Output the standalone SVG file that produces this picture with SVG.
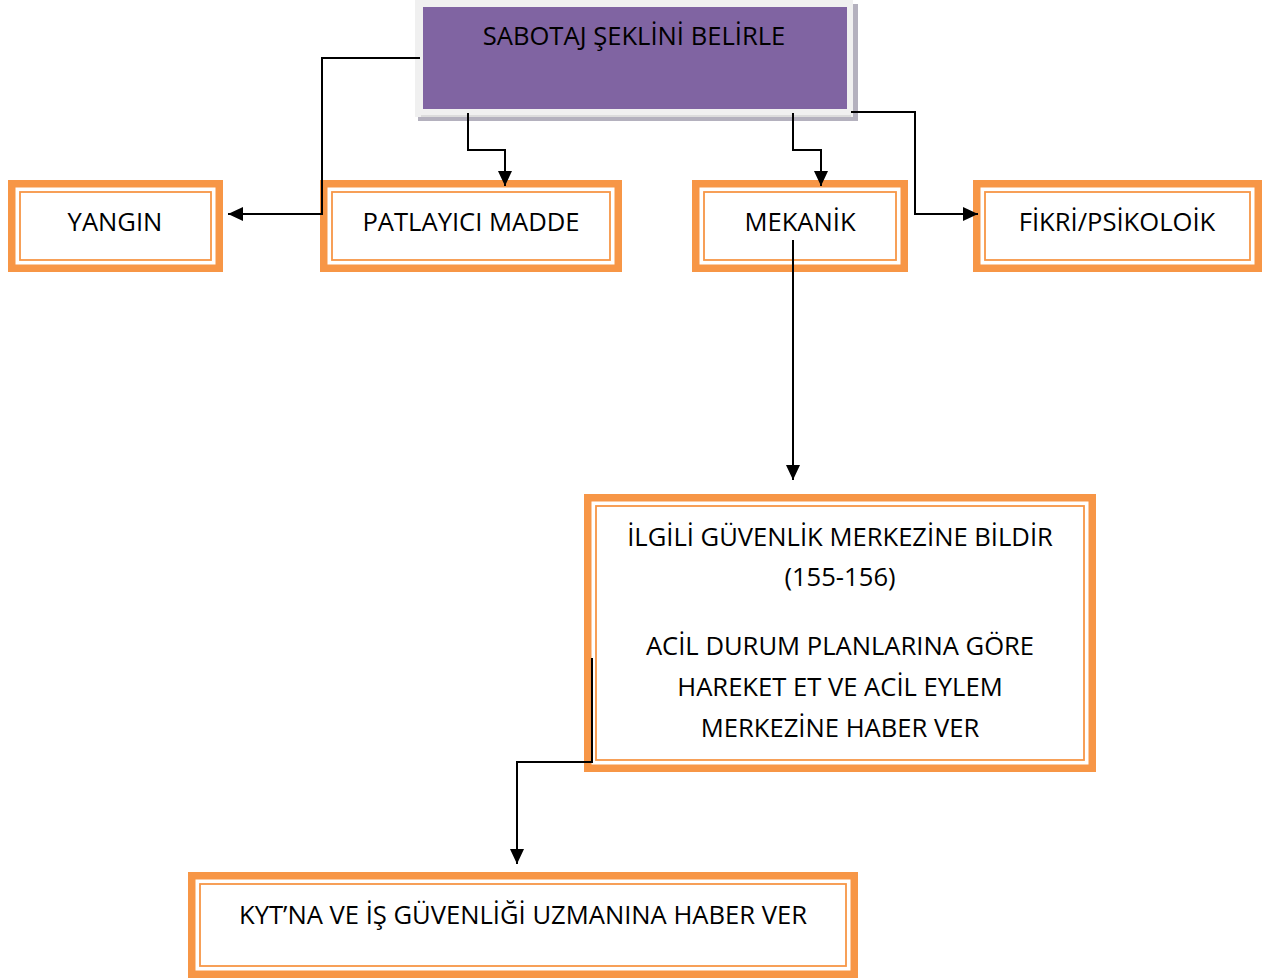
<svg xmlns="http://www.w3.org/2000/svg" width="1269" height="978" viewBox="0 0 1269 978">
  <style>
    .band { fill: #F79646; }
    .inner { fill: #FFFFFF; }
    .rule { fill: none; stroke: #F79646; stroke-width: 1.8; }
    .label { font-family: "Open Sans", "Noto Sans", "Liberation Sans", sans-serif; font-size: 25.6px; fill: #000000; text-anchor: middle; }
    .conn { fill: none; stroke: #000000; stroke-width: 2; marker-end: url(#arrow); }
  </style>
  <defs>
    <marker id="arrow" markerUnits="userSpaceOnUse" markerWidth="15" markerHeight="14" refX="15" refY="7" orient="auto">
      <path d="M0,0 L15,7 L0,14 Z" fill="#000000"/>
    </marker>
  </defs>
  <rect width="1269" height="978" fill="#FFFFFF"/>

  <!-- root step -->
  <g id="node-sabotaj">
    <rect x="418" y="4" width="440" height="117" fill="#B4B1BE"/>
    <rect x="415" y="0" width="438" height="117" fill="#F0F0F0"/>
    <line x1="421" y1="116" x2="851" y2="116" stroke="#C8C8C8" stroke-width="1"/>
    <rect x="423" y="7" width="424" height="102" fill="#8064A2"/>
    <text class="label" x="634" y="45">SABOTAJ ŞEKLİNİ BELİRLE</text>
  </g>

  <!-- sabotage types -->
  <g id="node-yangin">
    <rect class="band" x="8" y="180" width="215" height="92"/>
    <rect class="inner" x="15.5" y="187.5" width="200" height="77"/>
    <rect class="rule" x="20" y="192" width="191" height="68"/>
    <text class="label" x="115" y="231">YANGIN</text>
  </g>
  <g id="node-patlayici">
    <rect class="band" x="320" y="180" width="302" height="92"/>
    <rect class="inner" x="327.5" y="187.5" width="287" height="77"/>
    <rect class="rule" x="332" y="192" width="278" height="68"/>
    <text class="label" x="471" y="231">PATLAYICI MADDE</text>
  </g>
  <g id="node-mekanik">
    <rect class="band" x="692" y="180" width="216" height="92"/>
    <rect class="inner" x="699.5" y="187.5" width="201" height="77"/>
    <rect class="rule" x="704" y="192" width="192" height="68"/>
    <text class="label" x="800" y="231">MEKANİK</text>
  </g>
  <g id="node-fikri">
    <rect class="band" x="973" y="180" width="289" height="92"/>
    <rect class="inner" x="980.5" y="187.5" width="274" height="77"/>
    <rect class="rule" x="985" y="192" width="265" height="68"/>
    <text class="label" x="1117" y="231">FİKRİ/PSİKOLOİK</text>
  </g>

  <!-- follow-up actions -->
  <g id="node-bildir">
    <rect class="band" x="584" y="494" width="512" height="278"/>
    <rect class="inner" x="591.5" y="501.5" width="497" height="263"/>
    <rect class="rule" x="596" y="506" width="488" height="254"/>
    <text class="label" x="840" y="546">İLGİLİ GÜVENLİK MERKEZİNE BİLDİR</text>
    <text class="label" x="840" y="586">(155-156)</text>
    <text class="label" x="840" y="655">ACİL DURUM PLANLARINA GÖRE</text>
    <text class="label" x="840" y="696">HAREKET ET VE ACİL EYLEM</text>
    <text class="label" x="840" y="737">MERKEZİNE HABER VER</text>
  </g>
  <g id="node-kyt">
    <rect class="band" x="188" y="872" width="670" height="106"/>
    <rect class="inner" x="195.5" y="879.5" width="655" height="91"/>
    <rect class="rule" x="200" y="884" width="646" height="82"/>
    <text class="label" x="523" y="924">KYT’NA VE İŞ GÜVENLİĞİ UZMANINA HABER VER</text>
  </g>

  <!-- connectors -->
  <g id="connectors">
    <path class="conn" d="M420,58 H322 V214 H228"/>
    <path class="conn" d="M468,113 V150 H505 V186"/>
    <path class="conn" d="M793,113 V150 H821 V186"/>
    <path class="conn" d="M851,112 H915 V214 H978"/>
    <path class="conn" d="M793,240 V480"/>
    <path class="conn" d="M592,658 V762 H517 V864"/>
  </g>
</svg>
